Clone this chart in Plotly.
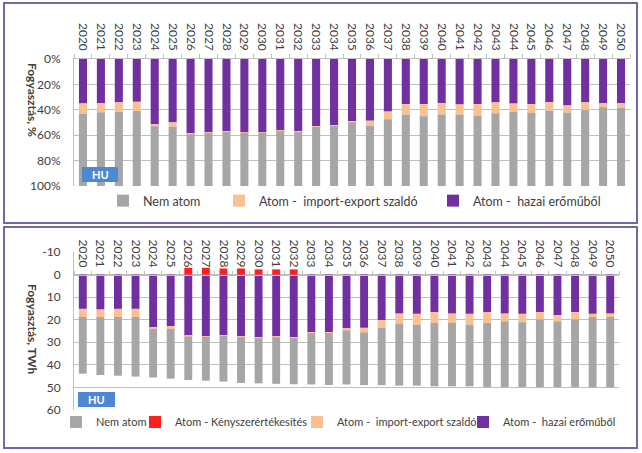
import plotly.graph_objects as go

W, H = 642, 453

years = [str(y) for y in range(2020, 2051)]

# --- Top chart: share of consumption, % ---
pct_hazai = [35.0, 34.9, 34.2, 33.7, 51.7, 49.9, 58.9, 58.0, 57.2, 57.8, 57.7, 56.5, 57.3, 53.1, 52.4, 49.0,
             48.6, 41.4, 35.5, 35.5, 34.7, 35.8, 35.5, 34.2, 35.1, 35.6, 34.0, 36.6, 34.2, 34.9, 34.9]
pct_szaldo = [8.0, 7.1, 7.3, 7.3, 1.2, 3.4, 0.4, 0.4, 0.4, 0.3, 0.3, 0.3, 0.3, 0.5, 0.4, 1.0,
              4.0, 6.0, 8.3, 9.5, 9.0, 8.0, 9.2, 8.5, 6.4, 6.8, 6.6, 5.6, 6.0, 3.0, 3.6]
pct_nem_atom = [57.0, 58.0, 58.5, 59.0, 47.1, 46.7, 40.7, 41.6, 42.4, 41.9, 42.0, 43.2, 42.4, 46.4, 47.2, 50.0,
                47.4, 52.6, 56.2, 55.0, 56.3, 56.2, 55.3, 57.3, 58.5, 57.6, 59.4, 57.8, 59.8, 62.1, 61.5]

# --- Bottom chart: consumption, TWh ---
twh_hazai = [15.2, 15.5, 15.2, 15.2, 23.6, 22.9, 27.2, 27.3, 26.9, 27.5, 27.9, 27.5, 27.9, 25.7, 25.7, 23.9,
             23.6, 20.2, 17.3, 17.4, 16.7, 17.3, 17.4, 16.7, 17.3, 17.4, 16.7, 18.0, 16.7, 17.4, 17.3]
twh_szaldo = [3.6, 3.3, 3.6, 3.6, 0.5, 1.2, 0.3, 0.3, 0.3, 0.3, 0.3, 0.3, 0.3, 0.3, 0.3, 0.8,
              2.0, 3.4, 4.4, 4.8, 4.7, 4.1, 4.8, 4.7, 3.4, 3.7, 3.2, 2.7, 3.2, 1.4, 1.5]
twh_kenyszer = [0, 0, 0, 0, 0, 0, -3.0, -3.0, -2.7, -2.7, -2.3, -2.3, -2.3, 0, 0, 0,
                0, 0, 0, 0, 0, 0, 0, 0, 0, 0, 0, 0, 0, 0, 0]
twh_nem_atom = [25.1, 25.7, 26.0, 26.4, 21.5, 22.0, 19.2, 19.4, 20.2, 20.2, 20.0, 20.6, 20.4, 22.7, 22.9, 24.0,
                23.4, 25.4, 27.5, 27.0, 28.1, 28.1, 27.3, 28.4, 29.1, 28.7, 29.9, 29.1, 29.9, 31.1, 31.1]

pct_ticks = [0, 20, 40, 60, 80, 100]
pct_ticktext = ["0%", "20%", "40%", "60%", "80%", "100%"]
twh_ticks = [-10, 0, 10, 20, 30, 40, 50, 60]
twh_ticktext = ["-10", "0", "10", "20", "30", "40", "50", "60"]

C_HAZAI = "#7030a0"
C_SZALDO = "#fac090"
C_KENY = "#ff1f1f"
C_NEM = "#a6a6a6"
FONT = "Lato"
TXT = "#404040"
GRID = "#bfbfbf"


def px_x(p):
    return p / W


def px_y(p):
    return 1 - p / H


fig = go.Figure()

# top chart traces
fig.add_bar(x=years, y=pct_hazai, name="Atom -  hazai erőműből", marker_color=C_HAZAI,
            xaxis="x", yaxis="y", legend="legend3")
fig.add_bar(x=years, y=pct_szaldo, name="Atom -  import-export szaldó", marker_color=C_SZALDO,
            xaxis="x", yaxis="y", legend="legend2")
fig.add_bar(x=years, y=pct_nem_atom, name="Nem atom", marker_color=C_NEM,
            xaxis="x", yaxis="y", legend="legend")

# bottom chart traces
fig.add_bar(x=years, y=twh_hazai, name="Atom -  hazai erőműből", marker_color=C_HAZAI,
            xaxis="x2", yaxis="y2", legend="legend7")
fig.add_bar(x=years, y=twh_szaldo, name="Atom -  import-export szaldó", marker_color=C_SZALDO,
            xaxis="x2", yaxis="y2", legend="legend6")
fig.add_bar(x=years, y=twh_kenyszer, name="Atom - Kényszerértékesítés", marker_color=C_KENY,
            xaxis="x2", yaxis="y2", legend="legend5")
fig.add_bar(x=years, y=twh_nem_atom, name="Nem atom", marker_color=C_NEM,
            xaxis="x2", yaxis="y2", legend="legend4")

for tr in fig.data:
    tr.marker.line.width = 0

# positions (pixels)
top_y0, top_y1 = 59, 186
bot_y0, bot_y1 = 252, 410
bot_zero = bot_y0 + (bot_y1 - bot_y0) * (0 - (-10)) / 70

x_common = dict(type="category", tickangle=90, tickfont=dict(family=FONT, size=12, color=TXT),
                showgrid=False, showline=True, linecolor=GRID, linewidth=1,
                ticks="outside", ticklen=4, tickcolor=GRID, tickson="boundaries",
                ticklabelstandoff=3,
                side="top", fixedrange=True, automargin=False)
y_common = dict(showgrid=True, gridcolor=GRID, gridwidth=1, showline=True, linecolor=GRID,
                zeroline=False, ticks="outside", ticklen=10, tickcolor="rgba(0,0,0,0)",
                tickfont=dict(family=FONT, size=12, color=TXT), automargin=False, fixedrange=True)

fig.update_layout(
    width=W, height=H, margin=dict(l=0, r=0, t=0, b=0, autoexpand=False),
    paper_bgcolor="white", plot_bgcolor="white",
    barmode="relative", bargap=0.55,
    font=dict(family=FONT, color=TXT, size=12),
    xaxis=dict(domain=[px_x(74), px_x(630)], anchor="y", **x_common),
    yaxis=dict(domain=[px_y(top_y1), px_y(top_y0)], range=[100, 0], tickvals=pct_ticks,
               ticktext=pct_ticktext, anchor="x", **y_common),
    xaxis2=dict(domain=[px_x(74), px_x(619)], anchor="free", position=px_y(bot_zero), **x_common),
    yaxis2=dict(domain=[px_y(bot_y1), px_y(bot_y0)], range=[60, -10], tickvals=twh_ticks,
                ticktext=twh_ticktext, anchor="x2", **y_common),
    showlegend=True,
)

leg_common = dict(orientation="h", xanchor="left", yanchor="middle", bgcolor="rgba(0,0,0,0)",
                  tracegroupgap=0, itemwidth=30)
top_leg_y = px_y(201)
bot_leg_y = px_y(422)
top_font = dict(family=FONT, size=12.5, color=TXT)
bot_font = dict(family=FONT, size=11, color=TXT)
fig.update_layout(
    legend=dict(x=px_x(103), y=top_leg_y, font=top_font, **leg_common),
    legend2=dict(x=px_x(219), y=top_leg_y, font=top_font, **leg_common),
    legend3=dict(x=px_x(433), y=top_leg_y, font=top_font, **leg_common),
    legend4=dict(x=px_x(56), y=bot_leg_y, font=bot_font, **leg_common),
    legend5=dict(x=px_x(135), y=bot_leg_y, font=bot_font, **leg_common),
    legend6=dict(x=px_x(297), y=bot_leg_y, font=bot_font, **leg_common),
    legend7=dict(x=px_x(463), y=bot_leg_y, font=bot_font, **leg_common),
)

# panel borders
for (y0, y1) in [(3, 223), (227, 448)]:
    fig.add_shape(type="rect", xref="paper", yref="paper",
                  x0=px_x(4), x1=px_x(637), y0=px_y(y1), y1=px_y(y0),
                  line=dict(color="#6d6aa8", width=2), fillcolor="rgba(0,0,0,0)", layer="above")

# HU badges
for (x0, x1, y0, y1) in [(82, 118, 167, 182), (78, 115, 392, 407)]:
    fig.add_shape(type="rect", xref="paper", yref="paper",
                  x0=px_x(x0), x1=px_x(x1), y0=px_y(y1), y1=px_y(y0),
                  line=dict(width=0), fillcolor="#4f88d2", layer="above")
    fig.add_annotation(x=px_x((x0 + x1) / 2), y=px_y((y0 + y1) / 2), xref="paper", yref="paper",
                       xanchor="center", yanchor="middle",
                       text="<b>HU</b>", showarrow=False, font=dict(family=FONT, size=11, color="white"))

# axis titles
fig.add_annotation(x=px_x(33), y=px_y(100), xref="paper", yref="paper", text="<b>Fogyasztás, %</b>",
                   xanchor="center", yanchor="middle",
                   textangle=90, showarrow=False, font=dict(family=FONT, size=12, color=TXT))
fig.add_annotation(x=px_x(33), y=px_y(329), xref="paper", yref="paper", text="<b>Fogyasztás, TWh</b>",
                   xanchor="center", yanchor="middle",
                   textangle=90, showarrow=False, font=dict(family=FONT, size=12, color=TXT))

fig.write_html("out.html")
